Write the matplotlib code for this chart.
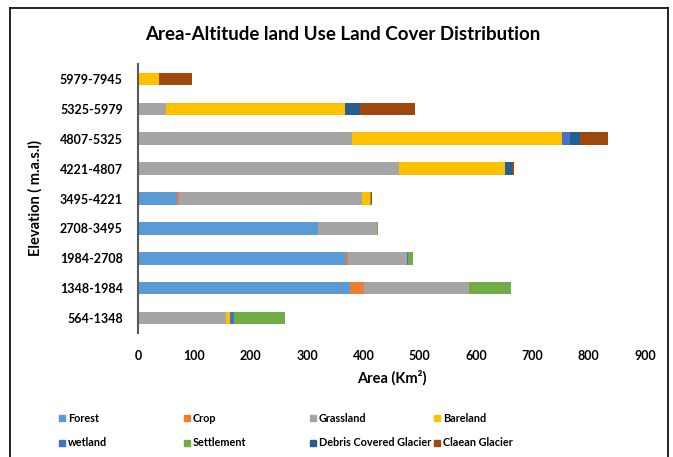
import matplotlib.pyplot as plt
from matplotlib.patches import Rectangle
from matplotlib.lines import Line2D
import numpy as np

# elevation bands, bottom to top
bands = ["564-1348", "1348-1984", "1984-2708", "2708-3495", "3495-4221",
         "4221-4807", "4807-5325", "5325-5979", "5979-7945"]

forest = [0, 376, 370, 320, 70, 0, 0, 0, 0]
crop = [0, 25, 2, 0, 2, 0, 0, 0, 0]
grassland = [157, 186, 105, 104, 326, 464, 380, 50, 0]
bareland = [6, 0, 0, 0, 14, 188, 373, 318, 37]
wetland = [8, 0, 2, 0, 0, 0, 14, 0, 0]
settlement = [90, 76, 9, 2, 1, 0, 0, 0, 0]
debris = [0, 0, 0, 0, 0, 12, 18, 26, 1]
clean = [0, 0, 0, 0, 2, 4, 50, 98, 58]

series = [
    ("Forest", forest, "#5B9BD5"),
    ("Crop", crop, "#ED7D31"),
    ("Grassland", grassland, "#A5A5A5"),
    ("Bareland", bareland, "#FFC000"),
    ("wetland", wetland, "#4472C4"),
    ("Settlement", settlement, "#70AD47"),
    ("Debris Covered Glacier", debris, "#255E91"),
    ("Claean Glacier", clean, "#9E480E"),
]

plt.rcParams["font.family"] = ["Lato", "DejaVu Sans"]

W, H = 673, 457
fig = plt.figure(figsize=(W / 100, H / 100), dpi=100)
ax = fig.add_axes([138 / W, 1 - 333 / H, (645 - 138) / W, (333 - 64) / H])

y = np.arange(len(bands))
left = np.zeros(len(bands))
for name, vals, col in series:
    ax.barh(y, vals, left=left, height=0.42, color=col, edgecolor="none")
    left += np.array(vals)

ax.set_xlim(0, 900)
ax.set_ylim(-0.5, len(bands) - 0.5)
ax.set_xticks(range(0, 901, 100))
ax.set_yticks(y)
ax.set_yticklabels(bands)
ax.tick_params(axis="both", length=0, labelsize=9)
for lab in ax.get_xticklabels() + ax.get_yticklabels():
    lab.set_fontweight("bold")
ax.tick_params(axis="x", pad=12)
ax.tick_params(axis="y", pad=11)
for s in ["top", "right", "bottom"]:
    ax.spines[s].set_visible(False)
ax.spines["left"].set_color("#595959")
ax.spines["left"].set_linewidth(1.5)

ax.set_xlabel("Area (Km²)", fontsize=10.5, fontweight="bold", labelpad=6)
ax.set_ylabel("Elevation ( m.a.s.l)", fontsize=10.5, fontweight="bold", labelpad=12)

fig.text(343 / W, 1 - 34 / H, "Area-Altitude land Use Land Cover Distribution",
         ha="center", va="center", fontsize=13.5, fontweight="bold")

# legend laid out like the Excel one: 4 evenly spaced columns, 2 rows
col_x = [59, 184, 310, 434]
row_y = [418, 443]
for i, (name, vals, col) in enumerate(series):
    cx = col_x[i % 4]
    cy = row_y[i // 4]
    fig.patches.append(Rectangle((cx / W, 1 - (cy + 3) / H), 6 / W, 6 / H,
                                 transform=fig.transFigure, color=col))
    fig.text((cx + 9) / W, 1 - cy / H, name, ha="left", va="center",
             fontsize=7.8, fontweight="bold")

# outer frame (left, top, right)
frame = dict(transform=fig.transFigure, color="black", linewidth=1.2)
fig.lines.append(Line2D([10 / W, 10 / W], [0, 1 - 8 / H], **frame))
fig.lines.append(Line2D([10 / W, 668 / W], [1 - 8 / H, 1 - 8 / H], **frame))
fig.lines.append(Line2D([668 / W, 668 / W], [0, 1 - 8 / H], **frame))

fig.savefig("out.png", dpi=100)
